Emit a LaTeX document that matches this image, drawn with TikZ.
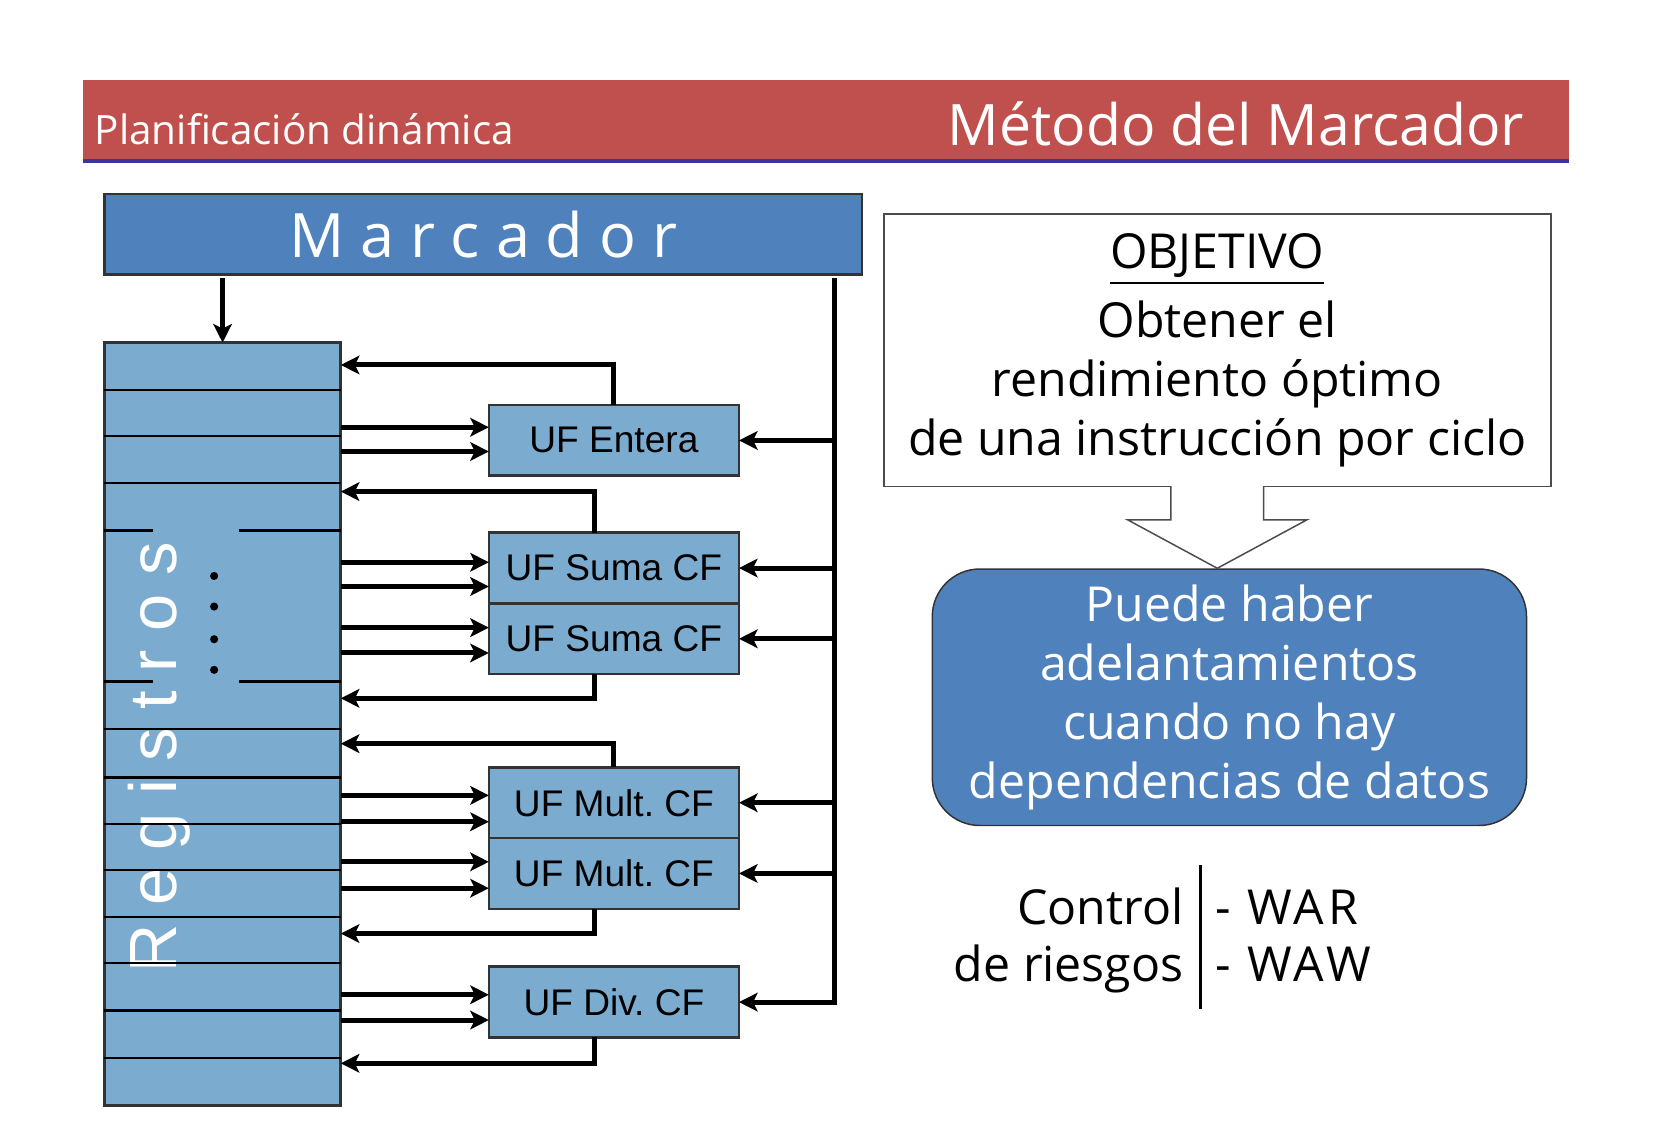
\documentclass[tikz,border=0pt]{standalone}
\usepackage{fontspec}
\setmainfont{Open Sans}
\newfontfamily\arialfont{Liberation Sans}
\usetikzlibrary{arrows.meta,positioning,calc}

\definecolor{hdrred}{RGB}{192,80,77}
\definecolor{hdrline}{RGB}{60,55,150}
\definecolor{darkblue}{RGB}{79,129,189}
\definecolor{lightblue}{RGB}{123,172,208}

\begin{document}
\begin{tikzpicture}[
        x=0.01cm, y=-0.01cm,
        node distance=0pt,
        regbox/.style={rectangle, draw=black!80, fill=lightblue, line width=0.7pt, outer sep=0pt, inner sep=0pt},
        ufbox/.style={regbox, minimum width=2.37cm, minimum height=0.67cm, font=\arialfont\fontsize{10}{12}\selectfont},
        arrow/.style={line width=1.35pt, -{Stealth[length=5pt, width=5pt, inset=1.2pt]}},
        % texto tipo "comic" de la parte derecha
        comic/.style={font=\fontsize{13}{15.9}\selectfont},
        plain/.style={inner sep=0pt, outer sep=0pt}
    ]
    \useasboundingbox (0,0) rectangle (1568,1084);

    % --- Cabecera ---
    \fill[hdrred] (79,76) rectangle (1487,151);
    \draw[hdrline, line width=1.2pt] (79,152.5) -- (1487,152.5);
    \node[plain, anchor=base west, text=white, font=\fontsize{10.9}{13}\selectfont] (subtit) at (90,137) {Planificación dinámica};
    \node[plain, anchor=base east, text=white, font=\fontsize{15.4}{18}\selectfont] (tit) at (1445,138) {Método del Marcador};

    % --- Marcador y banco de registros ---
    \node[rectangle, draw=black!80, fill=darkblue, line width=0.7pt, minimum width=7.18cm, minimum height=0.76cm, text=white, font=\fontsize{16.5}{20}\selectfont, outer sep=0pt] (marc) at (458,222) {M a r c a d o r};

    \node[regbox, minimum width=2.24cm, minimum height=7.23cm] (regs) at (211,686.5) {};
    \node[rotate=90, anchor=base, text=white, font=\arialfont\fontsize{18}{20}\selectfont] (regtxt) at (167,718) {R e g i s t r o s};
    \foreach \y in {370,413,458,691,737,781,825,869,913,958,1003}
        \draw[line width=0.6pt] (regs.west |- 0,\y) -- (regs.east |- 0,\y);
    \foreach \y in {503,646} {
        \draw[line width=0.6pt] (regs.west |- 0,\y) -- (145,\y);
        \draw[line width=0.6pt] (227,\y) -- (regs.east |- 0,\y);
    }
    \foreach \y in {546,575,606,635}
        \fill (203,\y) circle (1.1pt);

    \coordinate (regin) at (211,264);
    \draw[arrow] (regin) -- (regs.north);

    % --- Unidades funcionales ---
    \node[ufbox] (ent) at (582,417.5) {UF Entera};
    \node[ufbox] (suma1) at (582,538.5) {UF Suma CF};
    \node[ufbox, below=of suma1] (suma2) {UF Suma CF};
    \node[ufbox] (mult1) at (582,761) {UF Mult.\ CF};
    \node[ufbox, below=of mult1] (mult2) {UF Mult.\ CF};
    \node[ufbox] (div) at (582,950) {UF Div.\ CF};

    % operandos: registros -> UF
    \foreach \y/\uf in {405/ent,428/ent,533/suma1,556/suma1,595/suma2,619/suma2,754/mult1,779/mult1,817/mult2,842/mult2,943/div,967/div}
        \draw[arrow] (regs.east |- 0,\y) -- (\uf.west |- 0,\y);

    % resultados: UF -> registros
    \draw[arrow] (ent.north) |- (regs.east |- 0,346);
    \draw[arrow] (suma1.north -| 564,0) |- (regs.east |- 0,466);
    \draw[arrow] (suma2.south -| 564,0) |- (regs.east |- 0,662);
    \draw[arrow] (mult1.north) |- (regs.east |- 0,705);
    \draw[arrow] (mult2.south -| 564,0) |- (regs.east |- 0,885);
    \draw[arrow] (div.south -| 564,0) |- (regs.east |- 0,1008);

    % control desde el marcador
    \coordinate (bustop) at (791,264);
    \draw[arrow] (bustop) |- (div.east);
    \foreach \uf in {ent,suma1,suma2,mult1,mult2}
        \draw[arrow] (bustop |- \uf.east) -- (\uf.east);

    % --- Parte derecha ---
    \node[rectangle, draw=black!70, fill=white, minimum width=6.32cm, minimum height=2.58cm, align=center, comic] (obj) at (1154,332) {\underline{OBJETIVO}\\[2.5pt] Obtener el\\ rendimiento óptimo\\ de una instrucción por ciclo};

    \node[rectangle, rounded corners=0.45cm, draw=black!80, fill=darkblue, text=white, minimum width=5.63cm, minimum height=2.43cm, align=center, comic] (hint) at (1165.5,661) {Puede haber\\ adelantamientos\\ cuando no hay\\ dependencias de datos};

    \draw[draw=black!70, fill=white] ($(obj.south)+(-44,-1)$) -- ($(obj.south)+(-44,31)$) -- ($(obj.south)+(-85,31)$) -- (obj.south |- hint.north) -- ($(obj.south)+(85,31)$) -- ($(obj.south)+(44,31)$) -- ($(obj.south)+(44,-1)$);

    \node[plain, anchor=base east, comic] (ctrl1) at (1122,876) {Control};
    \node[plain, anchor=base east, comic] (ctrl2) at (1122,930) {de riesgos};
    \node[plain, anchor=base west, comic] (war) at (1152,876) {\addfontfeature{LetterSpace=8}- WAR};
    \node[plain, anchor=base west, comic] (waw) at (1152,930) {\addfontfeature{LetterSpace=8}- WAW};
    \draw[line width=1pt] (1138,820) -- (1138,957);

\end{tikzpicture}
\end{document}
